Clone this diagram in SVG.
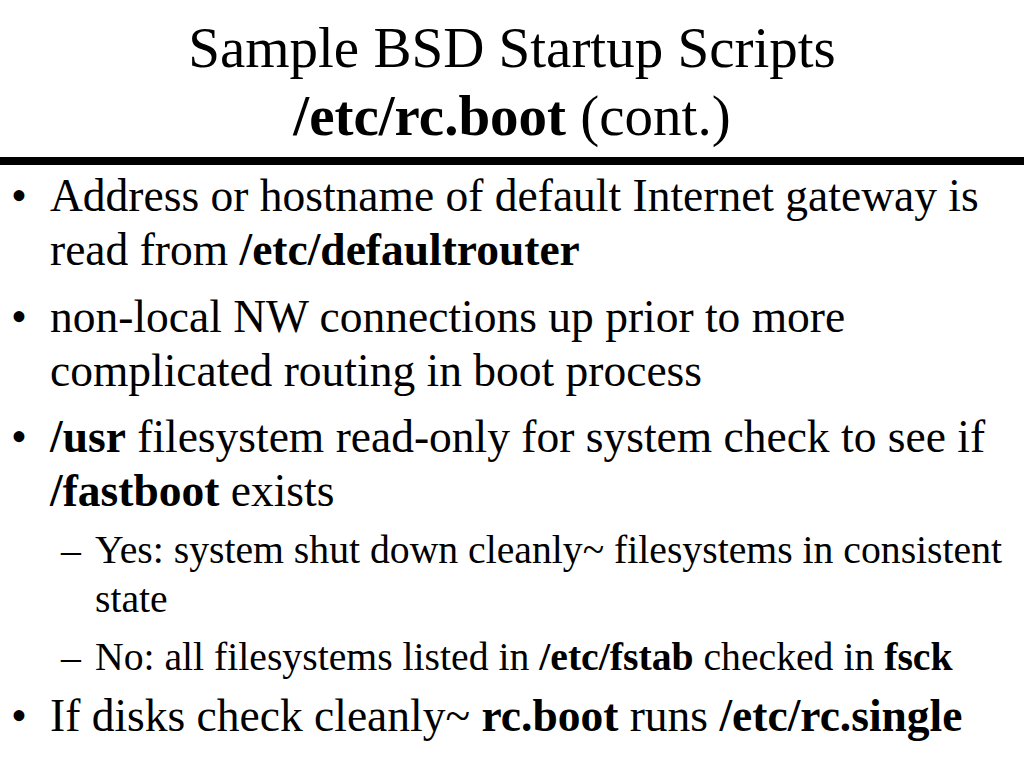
<svg xmlns="http://www.w3.org/2000/svg" width="1024" height="768" viewBox="0 0 1024 768">
<style>
text{font-family:"Liberation Serif","Times New Roman",serif;fill:#000}
.t{font-size:57px}
.b{font-size:45.5px}
.s{font-size:39.7px}
.k{font-weight:bold}
</style>
<rect width="1024" height="768" fill="#fff"/>
<text class="t" x="512" y="67" text-anchor="middle">Sample BSD Startup Scripts</text>
<text class="t" x="512" y="135" text-anchor="middle"><tspan class="k">/etc/rc.boot</tspan> (cont.)</text>
<rect x="0" y="157" width="1024" height="8" fill="#000"/>
<g class="b">
<text x="11" y="211">•</text>
<text x="50" y="211">Address or hostname of default Internet gateway is</text>
<text x="50" y="265">read from <tspan class="k">/etc/defaultrouter</tspan></text>
<text x="11" y="332">•</text>
<text x="50" y="332">non-local NW connections up prior to more</text>
<text x="50" y="386">complicated routing in boot process</text>
<text x="11" y="452">•</text>
<text x="50" y="452"><tspan class="k">/usr</tspan> filesystem read-only for system check to see if</text>
<text x="50" y="506"><tspan class="k">/fastboot</tspan> exists</text>
<text x="11" y="731">•</text>
<text x="50" y="731">If disks check cleanly~ <tspan class="k">rc.boot</tspan> runs <tspan class="k">/etc/rc.single</tspan></text>
</g>
<g class="s">
<text x="61" y="563">–</text>
<text x="95" y="563">Yes: system shut down cleanly~ filesystems in consistent</text>
<text x="95" y="612">state</text>
<text x="61" y="670">–</text>
<text x="95" y="670">No: all filesystems listed in <tspan class="k">/etc/fstab</tspan> checked in <tspan class="k">fsck</tspan></text>
</g>
</svg>
